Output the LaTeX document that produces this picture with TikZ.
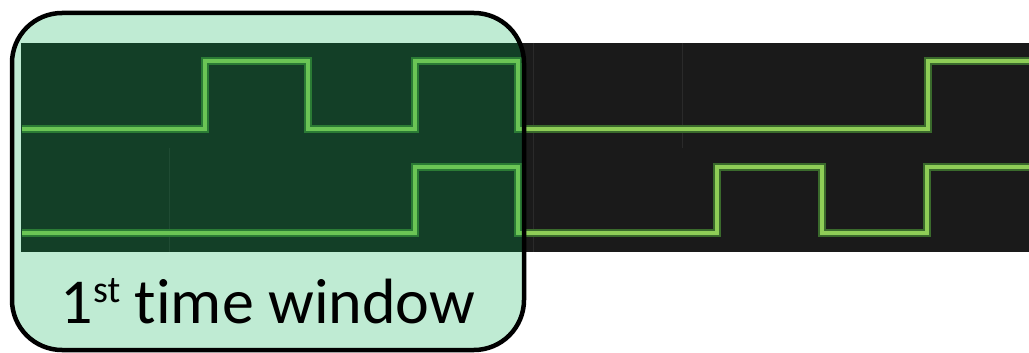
\documentclass[tikz,border=0pt]{standalone}
\usepackage{fontspec}
\setmainfont[Ligatures=NoCommon]{Carlito}
\usepackage{xcolor}
\definecolor{scope}{HTML}{1A1A1A}
\definecolor{seam}{HTML}{2A2A2A}
\definecolor{glow}{HTML}{3A6A2C}
\definecolor{trace}{HTML}{8FCD57}
\definecolor{winfill}{HTML}{00B050}
\tikzset{>=latex}
\tikzset{window/.style={rounded corners=50, line width=4.5, fill=winfill, fill opacity=0.25, draw opacity=1}}
\newcommand{\ordsup}[1]{\raisebox{21pt}{\fontsize{38}{38}\selectfont #1}}

\begin{document}
\begin{tikzpicture}[x=1pt, y=-1pt]
        \useasboundingbox (0,0) rectangle (1029,353);
        \fill[scope] (21,43) rectangle (1029,252);
        \draw[seam, line width=1] (169,148) -- (169,252);
        \draw[seam, line width=1] (533,43) -- (533,252);
        \draw[seam, line width=1] (682,43) -- (682,148);
        \foreach \w/\c in {8/glow, 4.5/trace} {
          \draw[line width=\w, \c] (22,129) -- (205,129) -- (205,61) -- (308,61) -- (308,129) -- (415,129) -- (415,61) -- (518,61) -- (518,129) -- (928,129) -- (928,61) -- (1035,61);
          \draw[line width=\w, \c] (22,233) -- (415,233) -- (415,167) -- (518,167) -- (518,233) -- (717,233) -- (717,167) -- (822,167) -- (822,233) -- (927,233) -- (927,167) -- (1035,167);
        }
        \draw[window] (12,13) rectangle (524,350);
        \node[anchor=base, inner sep=0, font=\fontsize{64}{72}\selectfont] (label) at (268,323) {1\ordsup{st} time window};
      \end{tikzpicture}
\end{document}
